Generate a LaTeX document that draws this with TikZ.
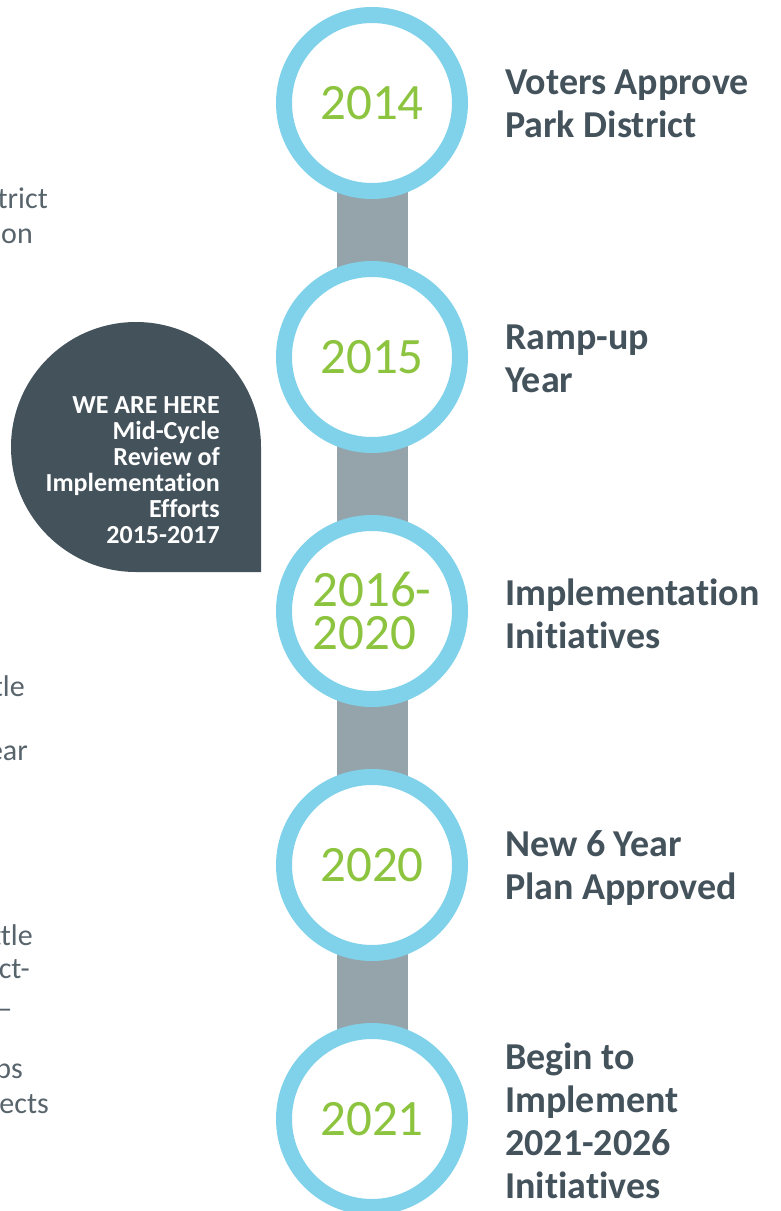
\documentclass[tikz,border=0pt]{standalone}
\usepackage{fontspec}
\setmainfont{Carlito}[Ligatures=NoCommon]
\usetikzlibrary{backgrounds}

\definecolor{ringblue}{RGB}{128,210,234}
\definecolor{bargrey}{RGB}{149,164,171}
\definecolor{yeargreen}{RGB}{141,196,63}
\definecolor{slate}{RGB}{68,82,92}
\definecolor{bodygrey}{RGB}{88,100,108}

\begin{document}
\begin{tikzpicture}[x=1pt, y=1pt, yscale=-1,
    ring/.style={circle, draw=ringblue, line width=16pt, fill=white,
        minimum size=176pt, inner sep=0pt, text=yeargreen,
        font=\fontsize{51}{43}\selectfont},
    milestone/.style={anchor=west, align=left, inner sep=0pt, text=slate,
        font=\bfseries\fontsize{38}{43}\selectfont},
    bodytext/.style={anchor=base east, inner sep=0pt, text=bodygrey,
        font=\fontsize{30}{35}\selectfont}]
    \useasboundingbox (0,0) rectangle (780,1211);

    % Define the positions of the circles
    \coordinate (c2014) at (372, 103);
    \coordinate (c2015) at (372, 357);
    \coordinate (c2016) at (372, 611);
    \coordinate (c2020) at (372, 865);
    \coordinate (c2021) at (372, 1119);

    % Draw the year rings
    \node[ring] (y2014) at (c2014) {2014};
    \node[ring] (y2015) at (c2015) {2015};
    \node[ring, align=left] (y2016) at (c2016) {2016-\\2020};
    \node[ring] (y2020) at (c2020) {2020};
    \node[ring] (y2021) at (c2021) {2021};

    % Draw the bar behind the rings
    \begin{pgfonlayer}{background}
        \draw[bargrey, line width=71pt] (y2014.center) -- (y2021.center);
    \end{pgfonlayer}

    % Draw the milestone labels
    \node[milestone] (approve) at (505, 104) {Voters Approve\\Park District};
    \node[milestone] (rampup) at (505, 359) {Ramp-up\\Year};
    \node[milestone] (initiatives) at (505, 614) {Implementation\\Initiatives};
    \node[milestone] (newplan) at (505, 868) {New 6 Year\\Plan Approved};
    \node[milestone] (begin) at (505, 1121) {Begin to\\Implement\\2021-2026\\Initiatives};

    % Draw the "we are here" bubble
    \fill[slate] (261, 447) arc[start angle=0, end angle=-270, radius=125]
        -- (261, 572) -- cycle;
    \node[anchor=east, align=right, inner sep=0pt, text=white,
        font=\bfseries\fontsize{26}{26}\selectfont] (here) at (220, 470)
        {WE ARE HERE\\Mid-Cycle\\Review of\\Implementation\\Efforts\\2015-2017};

    % Draw the text running in from the left edge
    \node[bodytext] (trict) at (48, 208) {trict};
    \node[bodytext] (ion) at (33, 243) {ion};
    \node[bodytext] (tle) at (25, 696) {tle};
    \node[bodytext] (ear) at (28, 760) {ear};
    \node[bodytext] (ttle) at (33, 945) {ttle};
    \node[bodytext] (ct) at (30, 978) {ct-};
    \node[bodytext] (dash) at (13, 1018) {—};
    \node[bodytext] (ps) at (23, 1078) {ps};
    \node[bodytext] (ects) at (49, 1113) {ects};
\end{tikzpicture}
\end{document}
